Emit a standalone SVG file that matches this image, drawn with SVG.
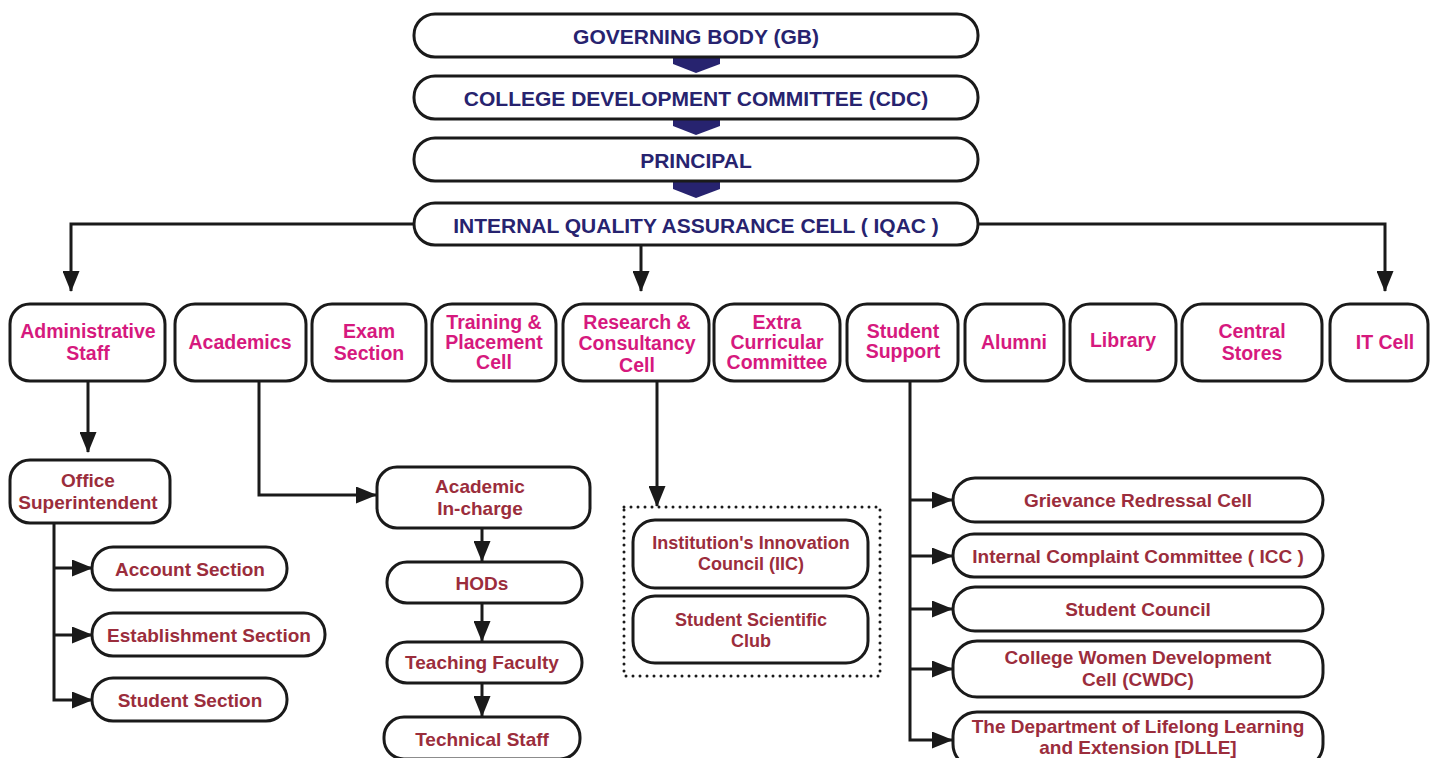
<svg xmlns="http://www.w3.org/2000/svg" width="1430" height="758" viewBox="0 0 1430 758">
<defs>
<marker id="ah" markerUnits="userSpaceOnUse" markerWidth="21" markerHeight="17" refX="20" refY="8.5" orient="auto">
<path d="M0,0 L21,8.5 L0,17 z" fill="#1a1a1a"/>
</marker>
<style>
.top{fill:#fff;stroke:#1a1a1a;stroke-width:3}
.box{fill:#fff;stroke:#1a1a1a;stroke-width:3}
.tn{font-family:"Liberation Sans",Arial,sans-serif;font-weight:bold;font-size:21px;fill:#27236f;text-anchor:middle;dominant-baseline:central}
.tp{font-family:"Liberation Sans",Arial,sans-serif;font-weight:bold;font-size:19.5px;fill:#d6197e;text-anchor:middle;dominant-baseline:central}
.tm{font-family:"Liberation Sans",Arial,sans-serif;font-weight:bold;font-size:19px;fill:#9b2d3c;text-anchor:middle;dominant-baseline:central}
.tm2{font-family:"Liberation Sans",Arial,sans-serif;font-weight:bold;font-size:18px;fill:#9b2d3c;text-anchor:middle;dominant-baseline:central}
.ln{fill:none;stroke:#1a1a1a;stroke-width:3}
.chev{fill:#27236f}
</style>
</defs>
<rect width="1430" height="758" fill="#fff"/>

<g id="connectors">
<polygon class="chev" points="673,57 720,57 720,64 696,73 673,64"/>
<polygon class="chev" points="673,119 720,119 720,126 696,135 673,126"/>
<polygon class="chev" points="673,181 720,181 720,189 696,198 673,189"/>
<path class="ln" d="M414,224 H71 V291" marker-end="url(#ah)"/>
<path class="ln" d="M641,245 V291" marker-end="url(#ah)"/>
<path class="ln" d="M978,224 H1385 V291" marker-end="url(#ah)"/>
<path class="ln" d="M88,381 V452" marker-end="url(#ah)"/>
<path class="ln" d="M54,523 V700 H92" marker-end="url(#ah)"/>
<path class="ln" d="M54,568 H92" marker-end="url(#ah)"/>
<path class="ln" d="M54,635 H92" marker-end="url(#ah)"/>
<path class="ln" d="M259,381 V495 H376" marker-end="url(#ah)"/>
<path class="ln" d="M482,528 V561" marker-end="url(#ah)"/>
<path class="ln" d="M482,603 V641" marker-end="url(#ah)"/>
<path class="ln" d="M482,683 V716" marker-end="url(#ah)"/>
<path class="ln" d="M657,381 V506" marker-end="url(#ah)"/>
<path class="ln" d="M910,381 V740 H952" marker-end="url(#ah)"/>
<path class="ln" d="M910,500 H952" marker-end="url(#ah)"/>
<path class="ln" d="M910,556 H952" marker-end="url(#ah)"/>
<path class="ln" d="M910,609 H952" marker-end="url(#ah)"/>
<path class="ln" d="M910,669 H952" marker-end="url(#ah)"/>
</g>

<g id="gb"><rect class="top" x="414" y="14" width="564" height="43" rx="21"/><text class="tn" x="696" y="36">GOVERNING BODY (GB)</text></g>
<g id="cdc"><rect class="top" x="414" y="76" width="564" height="43" rx="21"/><text class="tn" x="696" y="98">COLLEGE DEVELOPMENT COMMITTEE (CDC)</text></g>
<g id="principal"><rect class="top" x="414" y="138" width="564" height="43" rx="21"/><text class="tn" x="696" y="160">PRINCIPAL</text></g>
<g id="iqac"><rect class="top" x="414" y="203" width="564" height="42" rx="21"/><text class="tn" x="696" y="225">INTERNAL QUALITY ASSURANCE CELL ( IQAC )</text></g>

<g id="admin"><rect class="box" x="10" y="304" width="155" height="77" rx="20"/><text class="tp" x="88" y="331">Administrative</text><text class="tp" x="88" y="353">Staff</text></g>
<g id="academics"><rect class="box" x="175" y="304" width="131" height="77" rx="20"/><text class="tp" x="240" y="342">Academics</text></g>
<g id="exam"><rect class="box" x="312" y="304" width="114" height="77" rx="20"/><text class="tp" x="369" y="331">Exam</text><text class="tp" x="369" y="353">Section</text></g>
<g id="training"><rect class="box" x="432" y="304" width="124" height="77" rx="20"/><text class="tp" x="494" y="322">Training &amp;</text><text class="tp" x="494" y="342">Placement</text><text class="tp" x="494" y="362">Cell</text></g>
<g id="research"><rect class="box" x="563" y="304" width="146" height="77" rx="20"/><text class="tp" x="637" y="322">Research &amp;</text><text class="tp" x="637" y="343">Consultancy</text><text class="tp" x="637" y="365">Cell</text></g>
<g id="extra"><rect class="box" x="714" y="304" width="126" height="77" rx="20"/><text class="tp" x="777" y="322">Extra</text><text class="tp" x="777" y="342">Curricular</text><text class="tp" x="777" y="362">Committee</text></g>
<g id="student-support"><rect class="box" x="847" y="304" width="111" height="77" rx="20"/><text class="tp" x="903" y="331">Student</text><text class="tp" x="903" y="351">Support</text></g>
<g id="alumni"><rect class="box" x="965" y="304" width="99" height="77" rx="20"/><text class="tp" x="1014" y="342">Alumni</text></g>
<g id="library"><rect class="box" x="1070" y="304" width="106" height="77" rx="20"/><text class="tp" x="1123" y="340">Library</text></g>
<g id="stores"><rect class="box" x="1182" y="304" width="140" height="77" rx="20"/><text class="tp" x="1252" y="331">Central</text><text class="tp" x="1252" y="353">Stores</text></g>
<g id="itcell"><rect class="box" x="1330" y="304" width="98" height="77" rx="20"/><text class="tp" x="1385" y="342">IT Cell</text></g>

<g id="office"><rect class="box" x="10" y="460" width="160" height="63" rx="20"/><text class="tm" x="88" y="480">Office</text><text class="tm" x="88" y="502">Superintendent</text></g>
<g id="account"><rect class="box" x="92" y="547" width="195" height="43" rx="21"/><text class="tm" x="190" y="569">Account Section</text></g>
<g id="establishment"><rect class="box" x="92" y="613" width="233" height="43" rx="21"/><text class="tm" x="209" y="635">Establishment Section</text></g>
<g id="student-section"><rect class="box" x="92" y="678" width="195" height="43" rx="21"/><text class="tm" x="190" y="700">Student Section</text></g>

<g id="academic-incharge"><rect class="box" x="377" y="467" width="213" height="61" rx="20"/><text class="tm" x="480" y="486">Academic</text><text class="tm" x="480" y="508">In-charge</text></g>
<g id="hods"><rect class="box" x="387" y="562" width="195" height="41" rx="20"/><text class="tm" x="482" y="583">HODs</text></g>
<g id="teaching"><rect class="box" x="387" y="642" width="195" height="41" rx="20"/><text class="tm" x="482" y="662">Teaching Faculty</text></g>
<g id="technical"><rect class="box" x="384" y="717" width="196" height="42" rx="20"/><text class="tm" x="482" y="739">Technical Staff</text></g>

<g id="research-group">
<rect x="624" y="507" width="256" height="169" fill="none" stroke="#1a1a1a" stroke-width="3" stroke-dasharray="0 7" stroke-linecap="round"/>
</g>
<g id="iic"><rect class="box" x="633" y="520" width="235" height="68" rx="22"/><text class="tm2" x="751" y="543">Institution's Innovation</text><text class="tm2" x="751" y="564">Council (IIC)</text></g>
<g id="ssc"><rect class="box" x="633" y="596" width="235" height="67" rx="22"/><text class="tm2" x="751" y="620">Student Scientific</text><text class="tm2" x="751" y="641">Club</text></g>

<g id="grievance"><rect class="box" x="953" y="478" width="370" height="44" rx="22"/><text class="tm" x="1138" y="500">Grievance Redressal Cell</text></g>
<g id="icc"><rect class="box" x="953" y="534" width="370" height="43" rx="21"/><text class="tm" x="1138" y="556">Internal Complaint Committee ( ICC )</text></g>
<g id="council"><rect class="box" x="953" y="587" width="370" height="44" rx="22"/><text class="tm" x="1138" y="609">Student Council</text></g>
<g id="cwdc"><rect class="box" x="953" y="641" width="370" height="56" rx="24"/><text class="tm" x="1138" y="657">College Women Development</text><text class="tm" x="1138" y="679">Cell (CWDC)</text></g>
<g id="dlle"><rect class="box" x="953" y="712" width="370" height="56" rx="24"/><text class="tm" x="1138" y="726">The Department of Lifelong Learning</text><text class="tm" x="1138" y="747">and Extension [DLLE]</text></g>
</svg>
